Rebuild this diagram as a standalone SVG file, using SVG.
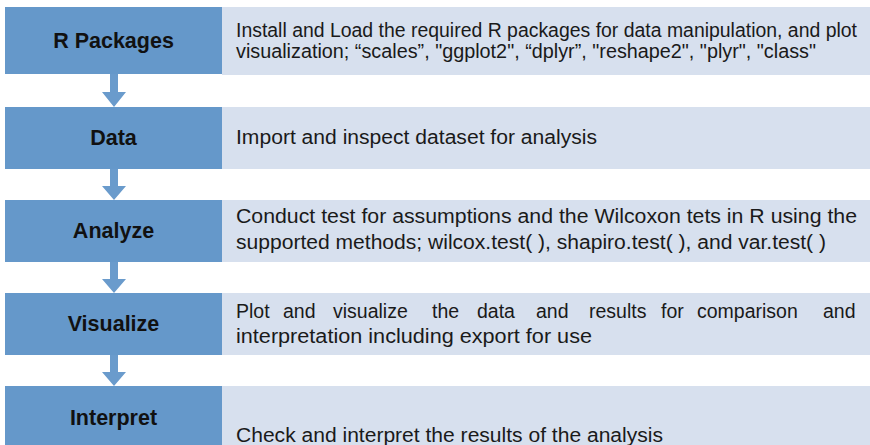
<svg xmlns="http://www.w3.org/2000/svg" width="870" height="445" viewBox="0 0 870 445">
<style>
.step{fill:#6598CA}
.desc{fill:#D7E0EE}
.lbl{font-family:"Liberation Sans",Arial,sans-serif;font-weight:bold;font-size:21.5px;fill:#111;text-anchor:middle}
.txt{font-family:"Liberation Sans",Arial,sans-serif;font-size:19.5px;fill:#1a1a1a}
.arr{fill:#6A9BCC}
</style>
<rect width="870" height="445" fill="#ffffff"/>
<g id="connectors">
<path class="arr" d="M110,74 H118 V92 H126 L114,107 L102,92 H110 Z"/>
<path class="arr" d="M110,169 H118 V186 H126 L114,200 L102,186 H110 Z"/>
<path class="arr" d="M110,262 H118 V279 H126 L114,293 L102,279 H110 Z"/>
<path class="arr" d="M110,355 H118 V372 H126 L114,386 L102,372 H110 Z"/>
</g>
<g id="node-rpackages">
<rect class="desc" x="222" y="7" width="648" height="68"/>
<rect class="step" x="5" y="7" width="217" height="67"/>
<text class="lbl" x="113.5" y="48">R Packages</text>
<text class="txt" x="236" y="37" textLength="621" lengthAdjust="spacingAndGlyphs">Install and Load the required R packages for data manipulation, and plot</text>
<text class="txt" x="236" y="58" textLength="580" lengthAdjust="spacingAndGlyphs">visualization; “scales”, "ggplot2", “dplyr”, "reshape2", "plyr", "class"</text>
</g>
<g id="node-data">
<rect class="desc" x="222" y="107" width="648" height="62"/>
<rect class="step" x="5" y="107" width="217" height="62"/>
<text class="lbl" x="113.5" y="145">Data</text>
<text class="txt" x="236" y="144" textLength="361" lengthAdjust="spacingAndGlyphs">Import and inspect dataset for analysis</text>
</g>
<g id="node-analyze">
<rect class="desc" x="222" y="200" width="648" height="62"/>
<rect class="step" x="5" y="200" width="217" height="62"/>
<text class="lbl" x="113.5" y="238">Analyze</text>
<text class="txt" x="236" y="223" textLength="621" lengthAdjust="spacingAndGlyphs">Conduct test for assumptions and the Wilcoxon tets in R using the</text>
<text class="txt" x="236" y="249" textLength="590" lengthAdjust="spacingAndGlyphs">supported methods; wilcox.test( ), shapiro.test( ), and var.test( )</text>
</g>
<g id="node-visualize">
<rect class="desc" x="222" y="293" width="648" height="62"/>
<rect class="step" x="5" y="293" width="217" height="62"/>
<text class="lbl" x="113.5" y="331">Visualize</text>
<text class="txt" y="318"><tspan x="236">Plot</tspan><tspan x="283">and</tspan><tspan x="333">visualize</tspan><tspan x="432">the</tspan><tspan x="477">data</tspan><tspan x="536">and</tspan><tspan x="589">results</tspan><tspan x="661">for</tspan><tspan x="697">comparison</tspan><tspan x="823">and</tspan></text>
<text class="txt" x="236" y="343" textLength="356" lengthAdjust="spacingAndGlyphs">interpretation including export for use</text>
</g>
<g id="node-interpret">
<rect class="desc" x="222" y="386" width="648" height="59"/>
<rect class="step" x="5" y="386" width="217" height="59"/>
<text class="lbl" x="113.5" y="425">Interpret</text>
<text class="txt" x="236" y="442" textLength="427" lengthAdjust="spacingAndGlyphs">Check and interpret the results of the analysis</text>
</g>
</svg>
